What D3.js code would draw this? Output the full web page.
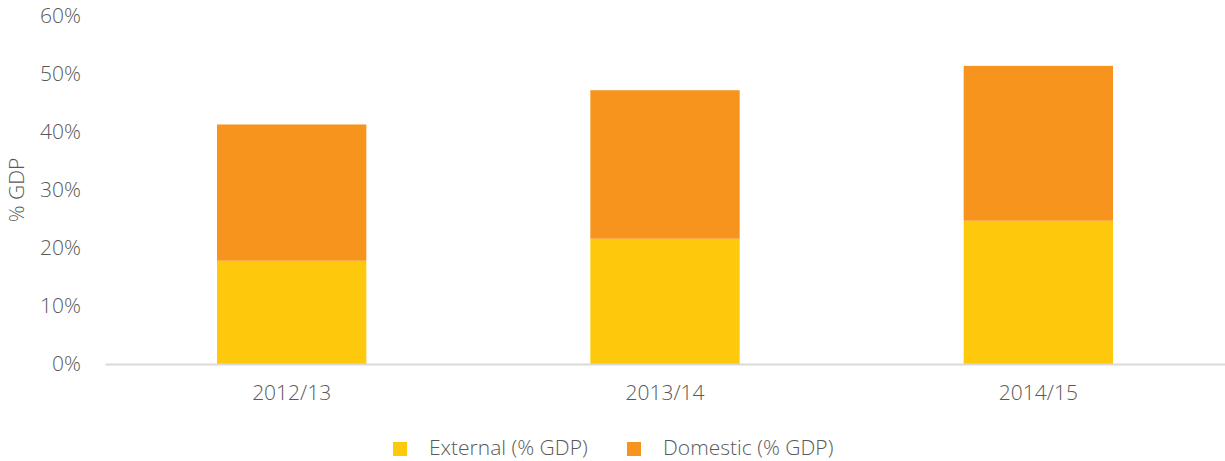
<!DOCTYPE html>
<html>
<head>
<meta charset="utf-8">
<script src="https://cdn.jsdelivr.net/npm/d3@7"></script>
<style>
  body { margin: 0; background: #fff; }
  text { font-family: "Open Sans", sans-serif; fill: #595959; }
</style>
</head>
<body>
<script>
// data
var years = ["2012/13", "2013/14", "2014/15"];
var external = [17.8, 21.6, 24.7];
var domestic = [23.5, 25.6, 26.7];
var yTicks = [0, 10, 20, 30, 40, 50, 60];
var seriesNames = ["External (% GDP)", "Domestic (% GDP)"];
var colors = ["#fec90d", "#f7941e"];

const w = 1225,
      h = 461,
      fontSize = 21;

var rows = years.map((y, i) => ({year: y, external: external[i], domestic: domestic[i]}));
var stack = d3.stack().keys(["external", "domestic"])(rows);

const xScale = d3.scaleBand()
                 .domain(years)
                 .range([105, 1225])
                 .paddingInner(0.6)
                 .paddingOuter(0.3);

const yScale = d3.scaleLinear()
                 .domain([0, 60])
                 .range([364, 16]);

const svg = d3.select("body")
              .append("svg")
              .attr("width", w)
              .attr("height", h);

// bars
svg.selectAll("g.series")
   .data(stack)
   .enter()
   .append("g")
   .attr("class", "series")
   .attr("fill", (d, i) => colors[i])
   .selectAll("rect")
   .data(d => d)
   .enter()
   .append("rect")
   .attr("x", d => xScale(d.data.year))
   .attr("width", xScale.bandwidth())
   .attr("y", d => yScale(d[1]))
   .attr("height", d => yScale(d[0]) - yScale(d[1]));

// y axis labels
var yAxis = svg.append("g")
               .attr("transform", "translate(81,0)")
               .call(d3.axisLeft(yScale).tickValues(yTicks).tickFormat(d => d + "%").tickSize(0).tickPadding(0));
yAxis.select(".domain").remove();
yAxis.selectAll("text")
     .attr("font-size", fontSize)
     .attr("font-weight", 300)
     .style("font-family", "'Open Sans', sans-serif")
     .attr("fill", "#595959");

// x axis
var xAxis = svg.append("g")
               .attr("transform", "translate(0,364)")
               .call(d3.axisBottom(xScale).tickSize(0).tickPadding(21));
xAxis.select(".domain")
     .attr("stroke", "#d9d9d9")
     .attr("stroke-width", 2);
xAxis.selectAll("text")
     .attr("font-size", fontSize)
     .attr("font-weight", 300)
     .style("font-family", "'Open Sans', sans-serif")
     .attr("fill", "#595959");

// y axis title
svg.append("text")
   .text("% GDP")
   .attr("transform", "translate(24,190)rotate(-90)")
   .attr("text-anchor", "middle")
   .attr("font-size", fontSize)
   .attr("font-weight", 300);

// legend
var legendX = [393, 627];
var legend = svg.append("g").attr("id", "legend");
legend.selectAll("rect")
      .data(seriesNames)
      .enter()
      .append("rect")
      .attr("x", (d, i) => legendX[i])
      .attr("y", 442)
      .attr("width", 14)
      .attr("height", 14)
      .attr("fill", (d, i) => colors[i]);
legend.selectAll("text")
      .data(seriesNames)
      .enter()
      .append("text")
      .attr("x", (d, i) => legendX[i] + 36)
      .attr("y", 455)
      .attr("font-size", fontSize)
      .attr("font-weight", 300)
      .text(d => d);
</script>
</body>
</html>
